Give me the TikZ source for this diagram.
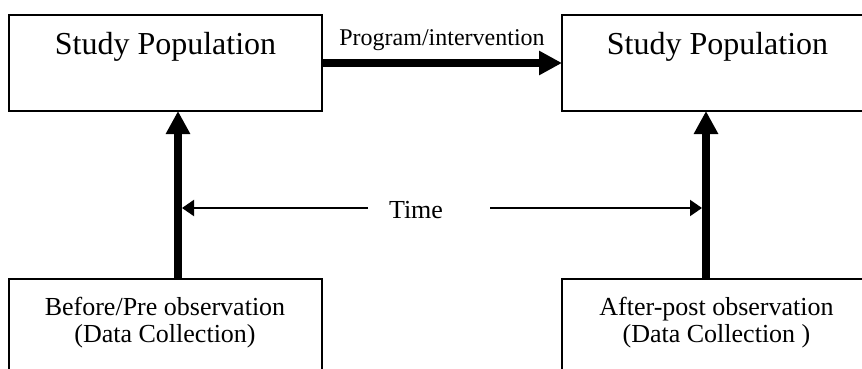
\documentclass[tikz,border=0pt]{standalone}
\usepackage{fontspec}
\setmainfont{Liberation Serif}
\usetikzlibrary{arrows.meta}
\begin{document}
\begin{tikzpicture}[x=1pt,y=-1pt,
  box/.style={draw=black,line width=2pt,fill=none},
  label/.style={anchor=base,inner sep=0pt,text=black},
  bigarrow/.style={line width=8pt,-{Triangle[length=23pt,width=23pt]}},
  timearrow/.style={line width=2pt,-{Triangle[length=12pt,width=16pt]}}]
\useasboundingbox (0,0) rectangle (862,369);
\begin{scope}
\clip (0,0) rectangle (862,369);
% the four boxes
\draw[box] (9,15) rectangle (322,111);
\draw[box] (562,15) rectangle (880,111);
\draw[box] (9,279) rectangle (322,400);
\draw[box] (562,279) rectangle (880,400);
\coordinate (popA) at (165.5,111);
\coordinate (popB) at (562,63);
\coordinate (popAr) at (322,63);
\coordinate (popBs) at (716,111);
\coordinate (preN) at (165.5,279);
\coordinate (postN) at (716,279);

% box texts
\node[label,font=\fontsize{32}{38}\selectfont] (popAt) at (165.5,55) {Study Population};
\node[label,font=\fontsize{32}{38}\selectfont] (popBt) at (717.5,55) {Study Population};
\node[label,font=\fontsize{26}{29}\selectfont] (preT1) at (165,315) {Before/Pre observation};
\node[label,font=\fontsize{26}{29}\selectfont] (preT2) at (165,342) {(Data Collection)};
\node[label,font=\fontsize{26}{29}\selectfont] (postT1) at (716.5,315) {After-post observation};
\node[label,font=\fontsize{26}{29}\selectfont] (postT2) at (716.5,342) {(Data Collection )};

% intervention arrow between the two populations
\node[label,font=\fontsize{24}{28}\selectfont] (prog) at (442,46) {Program/intervention};
\draw[bigarrow] (popAr) -- (popB);

% observations feed the populations
\draw[bigarrow] ([xshift=12.5pt]preN) -- ([xshift=12.5pt]popA);
\draw[bigarrow] ([xshift=-10pt]postN) -- ([xshift=-10pt]popBs);

% time span
\node[label,font=\fontsize{26}{30}\selectfont] (time) at (416,218) {Time};
\coordinate (tL1) at (368,208);
\coordinate (tL2) at (182,208);
\coordinate (tR1) at (490,208);
\coordinate (tR2) at (702,208);
\draw[timearrow] (tL1) -- (tL2);
\draw[timearrow] (tR1) -- (tR2);
\end{scope}
\end{tikzpicture}
\end{document}
